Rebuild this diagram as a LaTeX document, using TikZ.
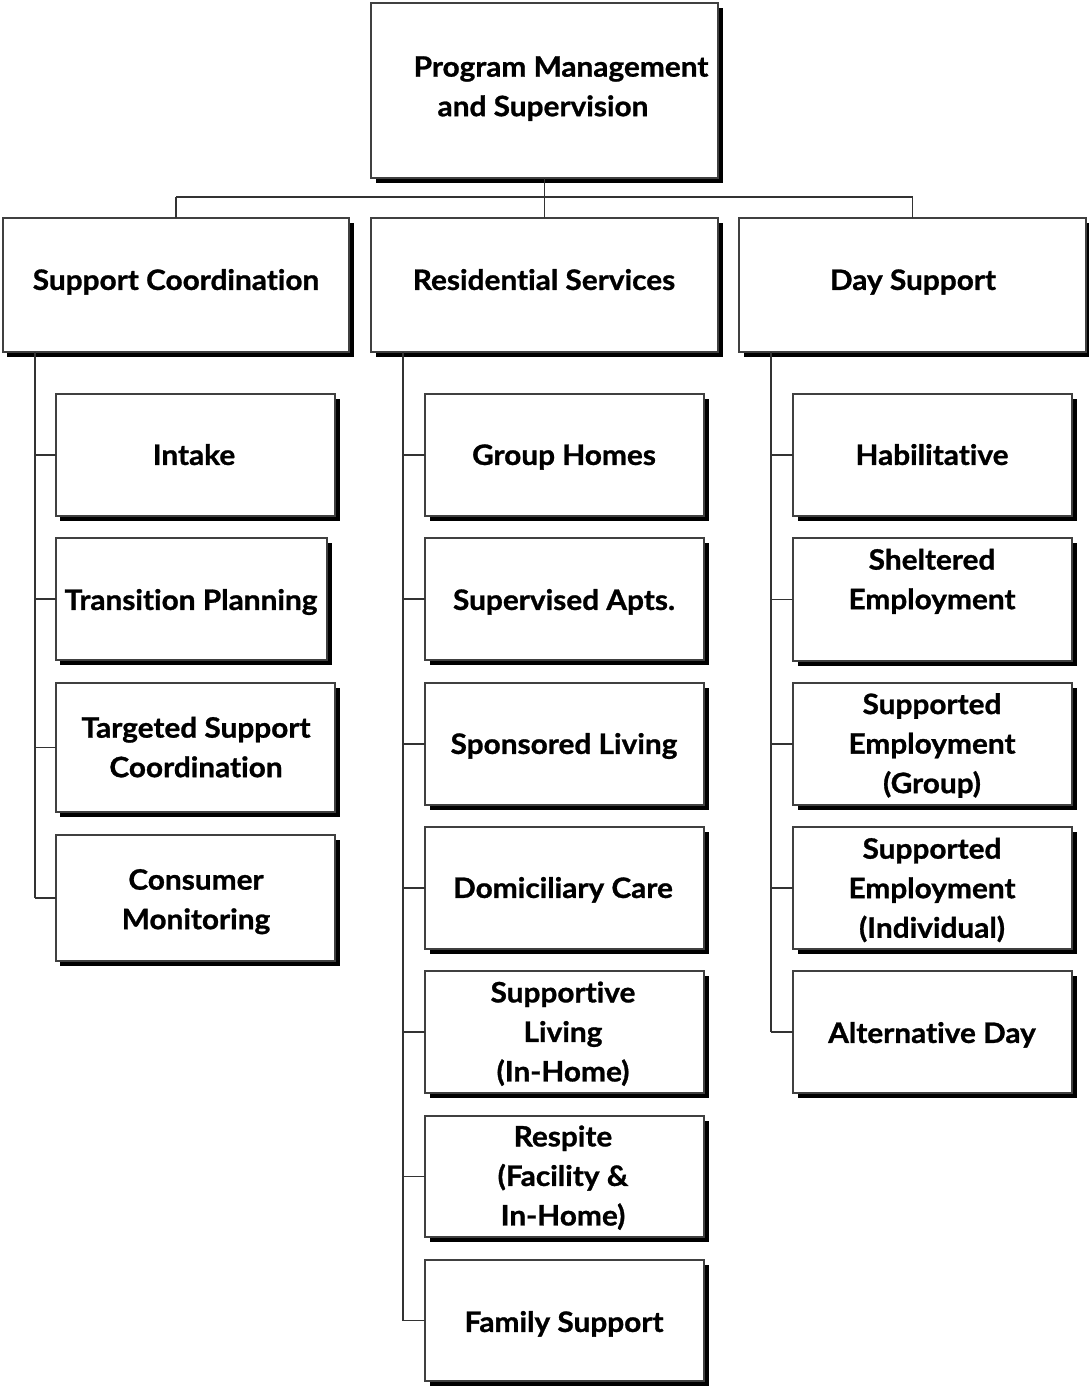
\documentclass[tikz,border=0pt]{standalone}
\usepackage{fontspec}
\setmainfont{Lato}[Ligatures=NoCommon, FakeStretch=1.06, BoldFeatures={FakeBold=1}]
\usetikzlibrary{shadows}
\newcommand\orgbox[5]{\node[boxst, minimum width={(#4-#2)*0.02cm}, minimum height={(#5-#3)*0.02cm}] (#1) at ({(#2+#4)/2},{(#3+#5)/2}) {};}
\begin{document}
\begin{tikzpicture}[x=0.02cm,y=-0.02cm,
  boxst/.style={draw=black!75, line width=0.9pt, fill=white, inner sep=0pt, outer sep=0pt,
     drop shadow={shadow xshift=0.09cm, shadow yshift=-0.09cm, fill=black, opacity=1}},
  lbl/.style={font=\bfseries\fontsize{16}{22.5}\selectfont, align=center, inner sep=0pt},
  wire/.style={draw=black!80, line width=0.7pt}]
\useasboundingbox[fill=white] (0,0) rectangle (1089,1387);

% boxes
\orgbox{top}{371}{3}{718}{178}
\orgbox{sc}{3}{218}{349}{352}
\orgbox{rs}{371}{218}{718}{352}
\orgbox{ds}{739}{218}{1086}{352}

\orgbox{c1}{56}{394}{335}{516}
\orgbox{c2}{56}{538}{327}{660}
\orgbox{c3}{56}{683}{335}{812}
\orgbox{c4}{56}{835}{335}{961}

\orgbox{m1}{425}{394}{704}{516}
\orgbox{m2}{425}{538}{704}{660}
\orgbox{m3}{425}{683}{704}{805}
\orgbox{m4}{425}{827}{704}{949}
\orgbox{m5}{425}{971}{704}{1093}
\orgbox{m6}{425}{1116}{704}{1237}
\orgbox{m7}{425}{1260}{704}{1381}

\orgbox{r1}{793}{394}{1072}{516}
\orgbox{r2}{793}{538}{1072}{661}
\orgbox{r3}{793}{683}{1072}{805}
\orgbox{r4}{793}{827}{1072}{949}
\orgbox{r5}{793}{971}{1072}{1093}

% texts
\node[lbl] (ttop) at (561,88.5) {\strut Program Management\\\strut and Supervision\hspace*{0.72cm}};
\node[lbl] (tsc) at (176,282) {\strut Support Coordination};
\node[lbl] (trs) at (544,282) {\strut Residential Services};
\node[lbl] (tds) at (913,282) {\strut Day Support};

\node[lbl] (tc1) at (194,457) {\strut Intake};
\node[lbl] (tc2) at (191,602) {\strut Transition Planning};
\node[lbl] (tc3) at (196,749.5) {\strut Targeted Support\\\strut Coordination};
\node[lbl] (tc4) at (196,901.5) {\strut Consumer\\\strut Monitoring};

\node[lbl] (tm1) at (564,457) {\strut Group Homes};
\node[lbl] (tm2) at (564,602) {\strut Supervised Apts.};
\node[lbl] (tm3) at (564,746) {\strut Sponsored Living};
\node[lbl] (tm4) at (563,890) {\strut Domiciliary Care};
\node[lbl] (tm5) at (563,1034) {\strut Supportive\\\strut Living\\\strut (In-Home)};
\node[lbl] (tm6) at (563,1178) {\strut Respite\\\strut (Facility \&\\\strut In-Home)};
\node[lbl] (tm7) at (564,1324) {\strut Family Support};

\node[lbl] (tr1) at (932,457) {\strut Habilitative};
\node[lbl] (tr2) at (932,581.5) {\strut Sheltered\\\strut Employment};
\node[lbl] (tr3) at (932,745.7) {\strut Supported\\\strut Employment\\\strut (Group)};
\node[lbl] (tr4) at (932,890.3) {\strut Supported\\\strut Employment\\\strut (Individual)};
\node[lbl] (tr5) at (932,1035) {\strut Alternative Day};

% connectors
\coordinate (bus) at (0,197);
\draw[wire] (top.south) -- (rs.north);
\draw[wire] (sc.north |- bus) -- (ds.north |- bus);
\draw[wire] (sc.north |- bus) -- (sc.north);
\draw[wire] (ds.north |- bus) -- (ds.north);

\coordinate (spL) at ([xshift=0.64cm]sc.south west);
\coordinate (spM) at ([xshift=0.64cm]rs.south west);
\coordinate (spR) at ([xshift=0.64cm]ds.south west);
\draw[wire] (spL) -- (spL |- c4.west);
\draw[wire] (spM) -- (spM |- m7.west);
\draw[wire] (spR) -- (spR |- r5.west);
\foreach \c in {c1,c2,c3,c4} \draw[wire] (spL |- \c.west) -- (\c.west);
\foreach \c in {m1,m2,m3,m4,m5,m6,m7} \draw[wire] (spM |- \c.west) -- (\c.west);
\foreach \c in {r1,r2,r3,r4,r5} \draw[wire] (spR |- \c.west) -- (\c.west);
\end{tikzpicture}
\end{document}
